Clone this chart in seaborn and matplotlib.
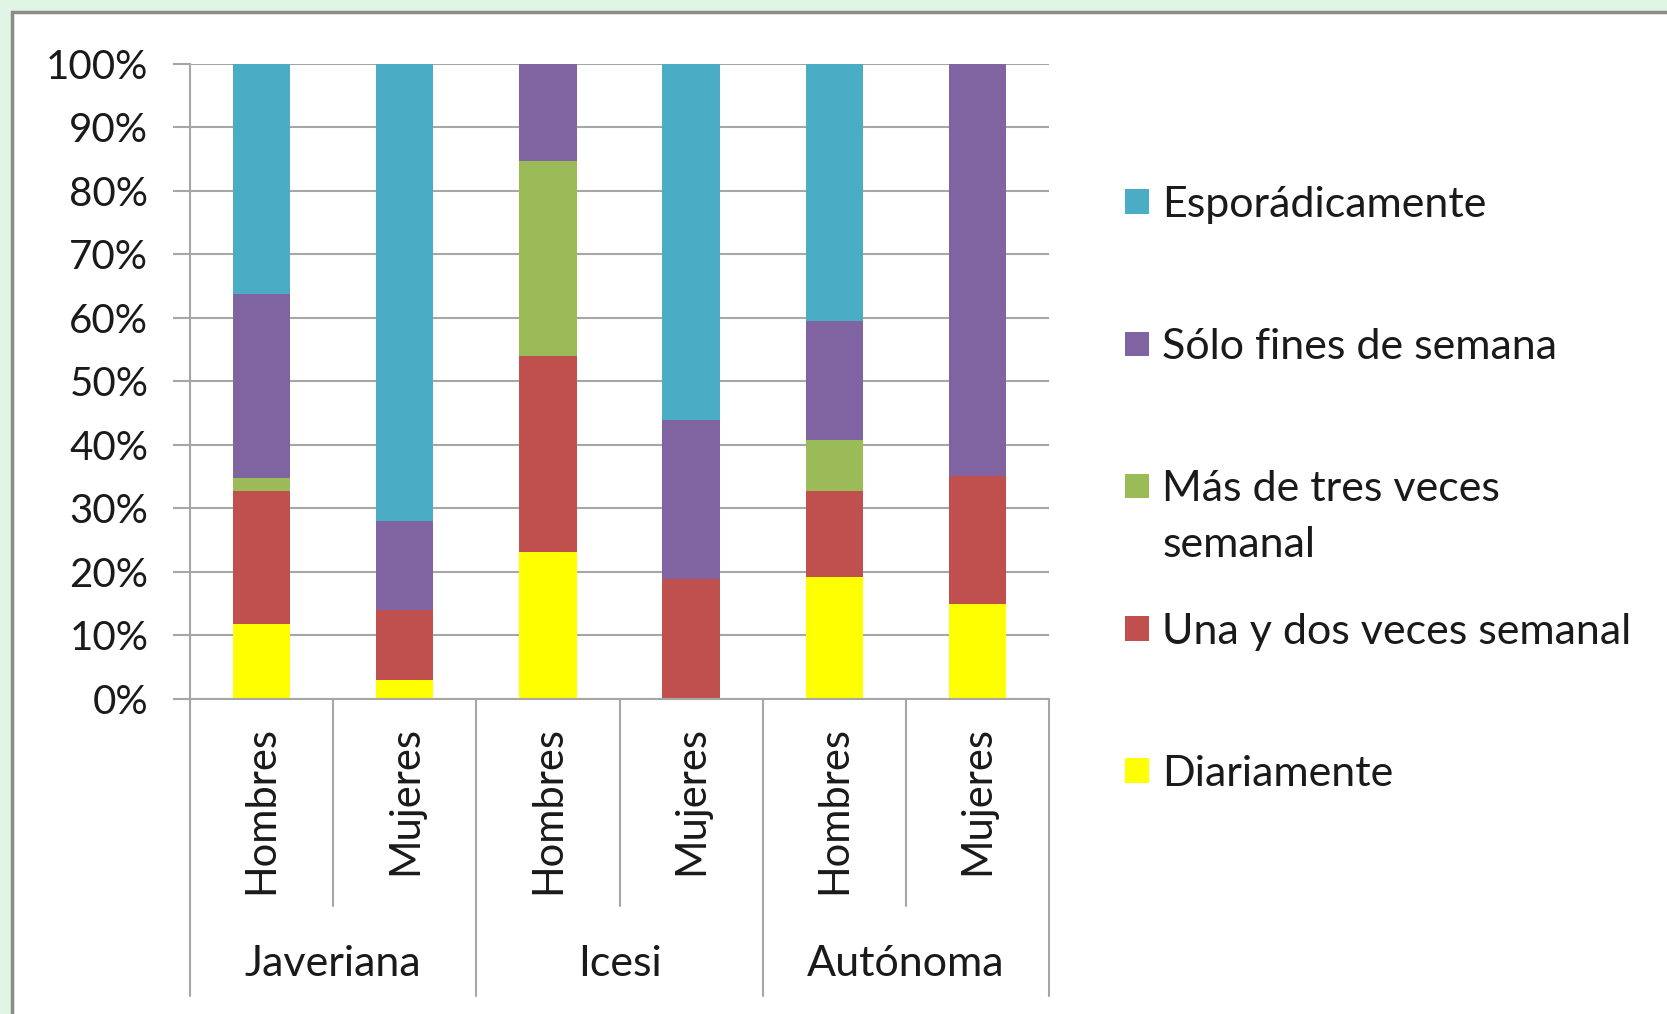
import matplotlib
matplotlib.use("Agg")
import matplotlib.pyplot as plt
from matplotlib.patches import Rectangle, Patch
from matplotlib.ticker import PercentFormatter
import seaborn as sns
import pandas as pd
import numpy as np

# ---------------- data ----------------
universidades = ["Javeriana", "Javeriana", "Icesi", "Icesi", "Autónoma", "Autónoma"]
sexo = ["Hombres", "Mujeres", "Hombres", "Mujeres", "Hombres", "Mujeres"]
grupos = ["Javeriana", "Icesi", "Autónoma"]

diariamente = [11.7, 2.9, 23.1, 0.0, 19.2, 14.9]
una_y_dos = [21.0, 11.0, 30.8, 18.8, 13.5, 20.2]
mas_de_tres = [2.0, 0.0, 30.8, 0.0, 8.1, 0.0]
solo_fines = [29.0, 14.1, 15.3, 25.1, 18.7, 64.9]
esporadicamente = [36.3, 72.0, 0.0, 56.1, 40.5, 0.0]

series_names = ["Diariamente", "Una y dos veces semanal", "Más de tres veces semanal",
                "Sólo fines de semana", "Esporádicamente"]
series_values = [diariamente, una_y_dos, mas_de_tres, solo_fines, esporadicamente]
series_colors = ["#FFFF00", "#C0504D", "#9BBB59", "#8064A2", "#4BACC6"]

# ---------------- style ----------------
sns.set_theme(style="white")
plt.rcParams["font.family"] = ["Lato", "DejaVu Sans"]
TXT = "#1a1a1a"
GRID = "#A6A6A6"

W, H = 1667, 1014
fig = plt.figure(figsize=(W / 100, H / 100), dpi=100)
fig.patch.set_facecolor("#E0F5E4")

panel = Rectangle((12 / W, -0.1), 1.2, (H - 12) / H + 0.1, transform=fig.transFigure,
                  facecolor="white", edgecolor="#8C8C8C", linewidth=2.5, zorder=-5)
fig.add_artist(panel)

ax_left, ax_right, ax_top, ax_bot = 190, 1049, 63.8, 698.5
ax = fig.add_axes([ax_left / W, 1 - ax_bot / H, (ax_right - ax_left) / W, (ax_bot - ax_top) / H])
ax.set_facecolor("white")

keys = [f"{u}-{s}" for u, s in zip(universidades, sexo)]
df = pd.DataFrame({"key": keys})
cum = np.zeros(len(keys))
cums = []
for vals in series_values:
    cum = cum + np.array(vals)
    cums.append(cum.copy())

# draw cumulative bars from top series down so lower segments overlay
for name, c, color in reversed(list(zip(series_names, cums, series_colors))):
    d = df.copy()
    d["val"] = c
    sns.barplot(data=d, x="key", y="val", order=keys, color=color, saturation=1,
                width=0.4, linewidth=0, ax=ax, errorbar=None)

ax.set_xlim(-0.5, 5.5)
ax.set_ylim(0, 100)
ax.set_yticks(range(0, 101, 10))
ax.yaxis.set_major_formatter(PercentFormatter(100, decimals=0))
ax.set_xticks(range(6), labels=sexo, rotation=90)
ax.set_xlabel("")
ax.set_ylabel("")
ax.set_axisbelow(True)
ax.yaxis.grid(True, color=GRID, linewidth=1.5)
ax.xaxis.grid(False)
for s in ["top", "right"]:
    ax.spines[s].set_visible(False)
for s in ["left", "bottom"]:
    ax.spines[s].set_color(GRID)
    ax.spines[s].set_linewidth(1.5)
ax.tick_params(axis="y", length=12, width=1.5, color=GRID, pad=18, labelsize=29,
               labelcolor=TXT, left=True)
ax.tick_params(axis="x", length=0, pad=20, labelsize=30, labelcolor=TXT)

# category separators
trans = ax.get_xaxis_transform()
for b in [-0.5, 1.5, 3.5, 5.5]:
    ax.plot([b, b], [0, -0.469], transform=trans, clip_on=False, color=GRID, lw=1.5)
for b in [0.5, 2.5, 4.5]:
    ax.plot([b, b], [0, -0.327], transform=trans, clip_on=False, color=GRID, lw=1.5)
for i, g in enumerate(grupos):
    ax.text(2 * i + 0.5, -0.418, g, transform=trans, ha="center", va="center",
            fontsize=31, color=TXT)

# legend
leg_labels = ["Esporádicamente", "Sólo fines de semana", "Más de tres veces",
              "Una y dos veces semanal", "Diariamente"]
leg_colors = list(reversed(series_colors))
handles = [Patch(facecolor=c, edgecolor="none") for c in leg_colors]
leg = fig.legend(handles, leg_labels, loc="upper left", bbox_to_anchor=(1125 / W, 1 - 186 / H),
                 frameon=False, fontsize=31, handlelength=0.55, handleheight=0.5,
                 handletextpad=0.32, labelspacing=2.42, borderpad=0, borderaxespad=0)
for t in leg.get_texts():
    t.set_color(TXT)

fig.canvas.draw()
t3 = leg.get_texts()[2]
bb = t3.get_window_extent()
fig.text(bb.x0 / W, (bb.y0 - 56) / H, "semanal", fontsize=31, color=TXT,
         ha="left", va="bottom")

fig.savefig("out.png", dpi=100, facecolor=fig.get_facecolor())
